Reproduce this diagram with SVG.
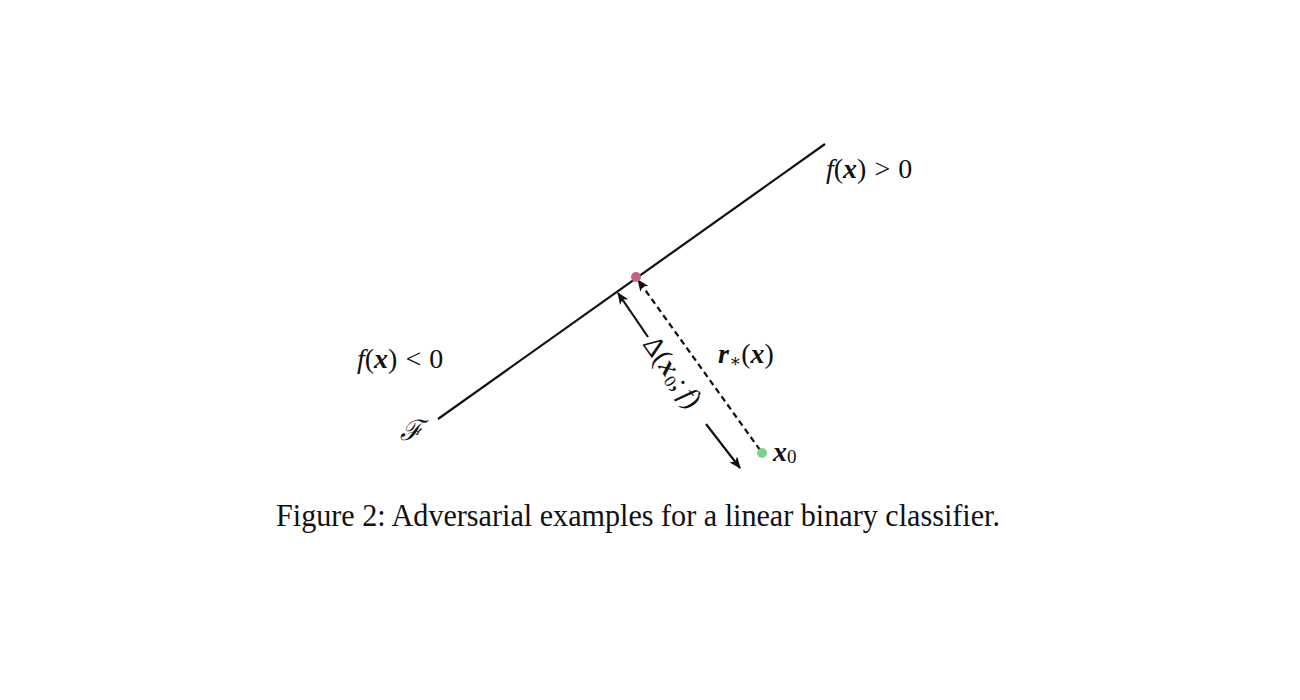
<svg xmlns="http://www.w3.org/2000/svg" width="1300" height="700" viewBox="0 0 1300 700">
<style>
.m{font-family:"Liberation Serif","DejaVu Serif",serif;font-size:28px;fill:#111}
.i{font-style:italic}
.b{font-weight:bold;font-style:italic}
.cap{font-family:"Liberation Serif","Times New Roman",serif;font-size:31px;fill:#111}
.ln{stroke:#111;stroke-width:2.2;fill:none}
</style>
<defs>
<marker id="ah" viewBox="0 0 12 10" refX="11" refY="5" markerWidth="12" markerHeight="10" markerUnits="userSpaceOnUse" orient="auto">
<path d="M0,0 L12,5 L0,10 L3,5 Z" fill="#111"/>
</marker>
</defs>
<rect width="1300" height="700" fill="#fff"/>
<g id="boundary">
<line class="ln" x1="438" y1="419" x2="825" y2="144"/>
</g>
<g id="connectors">
<line class="ln" x1="760" y1="450" x2="638" y2="280" stroke-width="1.6" stroke-dasharray="6,4" marker-end="url(#ah)"/>
<line class="ln" x1="648" y1="337" x2="618" y2="293" stroke-width="1.6" marker-end="url(#ah)"/>
<line class="ln" x1="706" y1="424" x2="740" y2="468" stroke-width="1.6" marker-end="url(#ah)"/>
</g>
<g id="proj">
<circle cx="636" cy="277" r="5" fill="#c06482"/>
</g>
<g id="x0">
<circle cx="762" cy="453" r="5" fill="#80d090"/>
<text class="m" x="773" y="461"><tspan class="b">x</tspan><tspan font-size="19" dy="2">0</tspan></text>
</g>
<g id="labels">
<text class="m" x="826" y="178"><tspan class="i">f</tspan>(<tspan class="b">x</tspan>)<tspan dx="8">&gt;</tspan><tspan dx="8">0</tspan></text>
<text class="m" x="357" y="368"><tspan class="i">f</tspan>(<tspan class="b">x</tspan>)<tspan dx="8">&lt;</tspan><tspan dx="8">0</tspan></text>
<text class="m" x="718" y="363"><tspan class="b">r</tspan><tspan font-size="18" dy="4">∗</tspan><tspan dy="-4">(</tspan><tspan class="b">x</tspan>)</text>
<text class="m i" x="400" y="440" font-size="27">ℱ</text>
<text class="m" x="0" y="0" font-size="26" transform="translate(642,344) rotate(55)">Δ(<tspan class="b">x</tspan><tspan font-size="17" dy="4" dx="1">0</tspan><tspan dy="-4">;</tspan><tspan class="i" dx="5">f</tspan>)</text>
</g>
<g id="caption">
<text class="cap" x="276" y="526" textLength="724" lengthAdjust="spacingAndGlyphs">Figure 2: Adversarial examples for a linear binary classifier.</text>
</g>
</svg>
